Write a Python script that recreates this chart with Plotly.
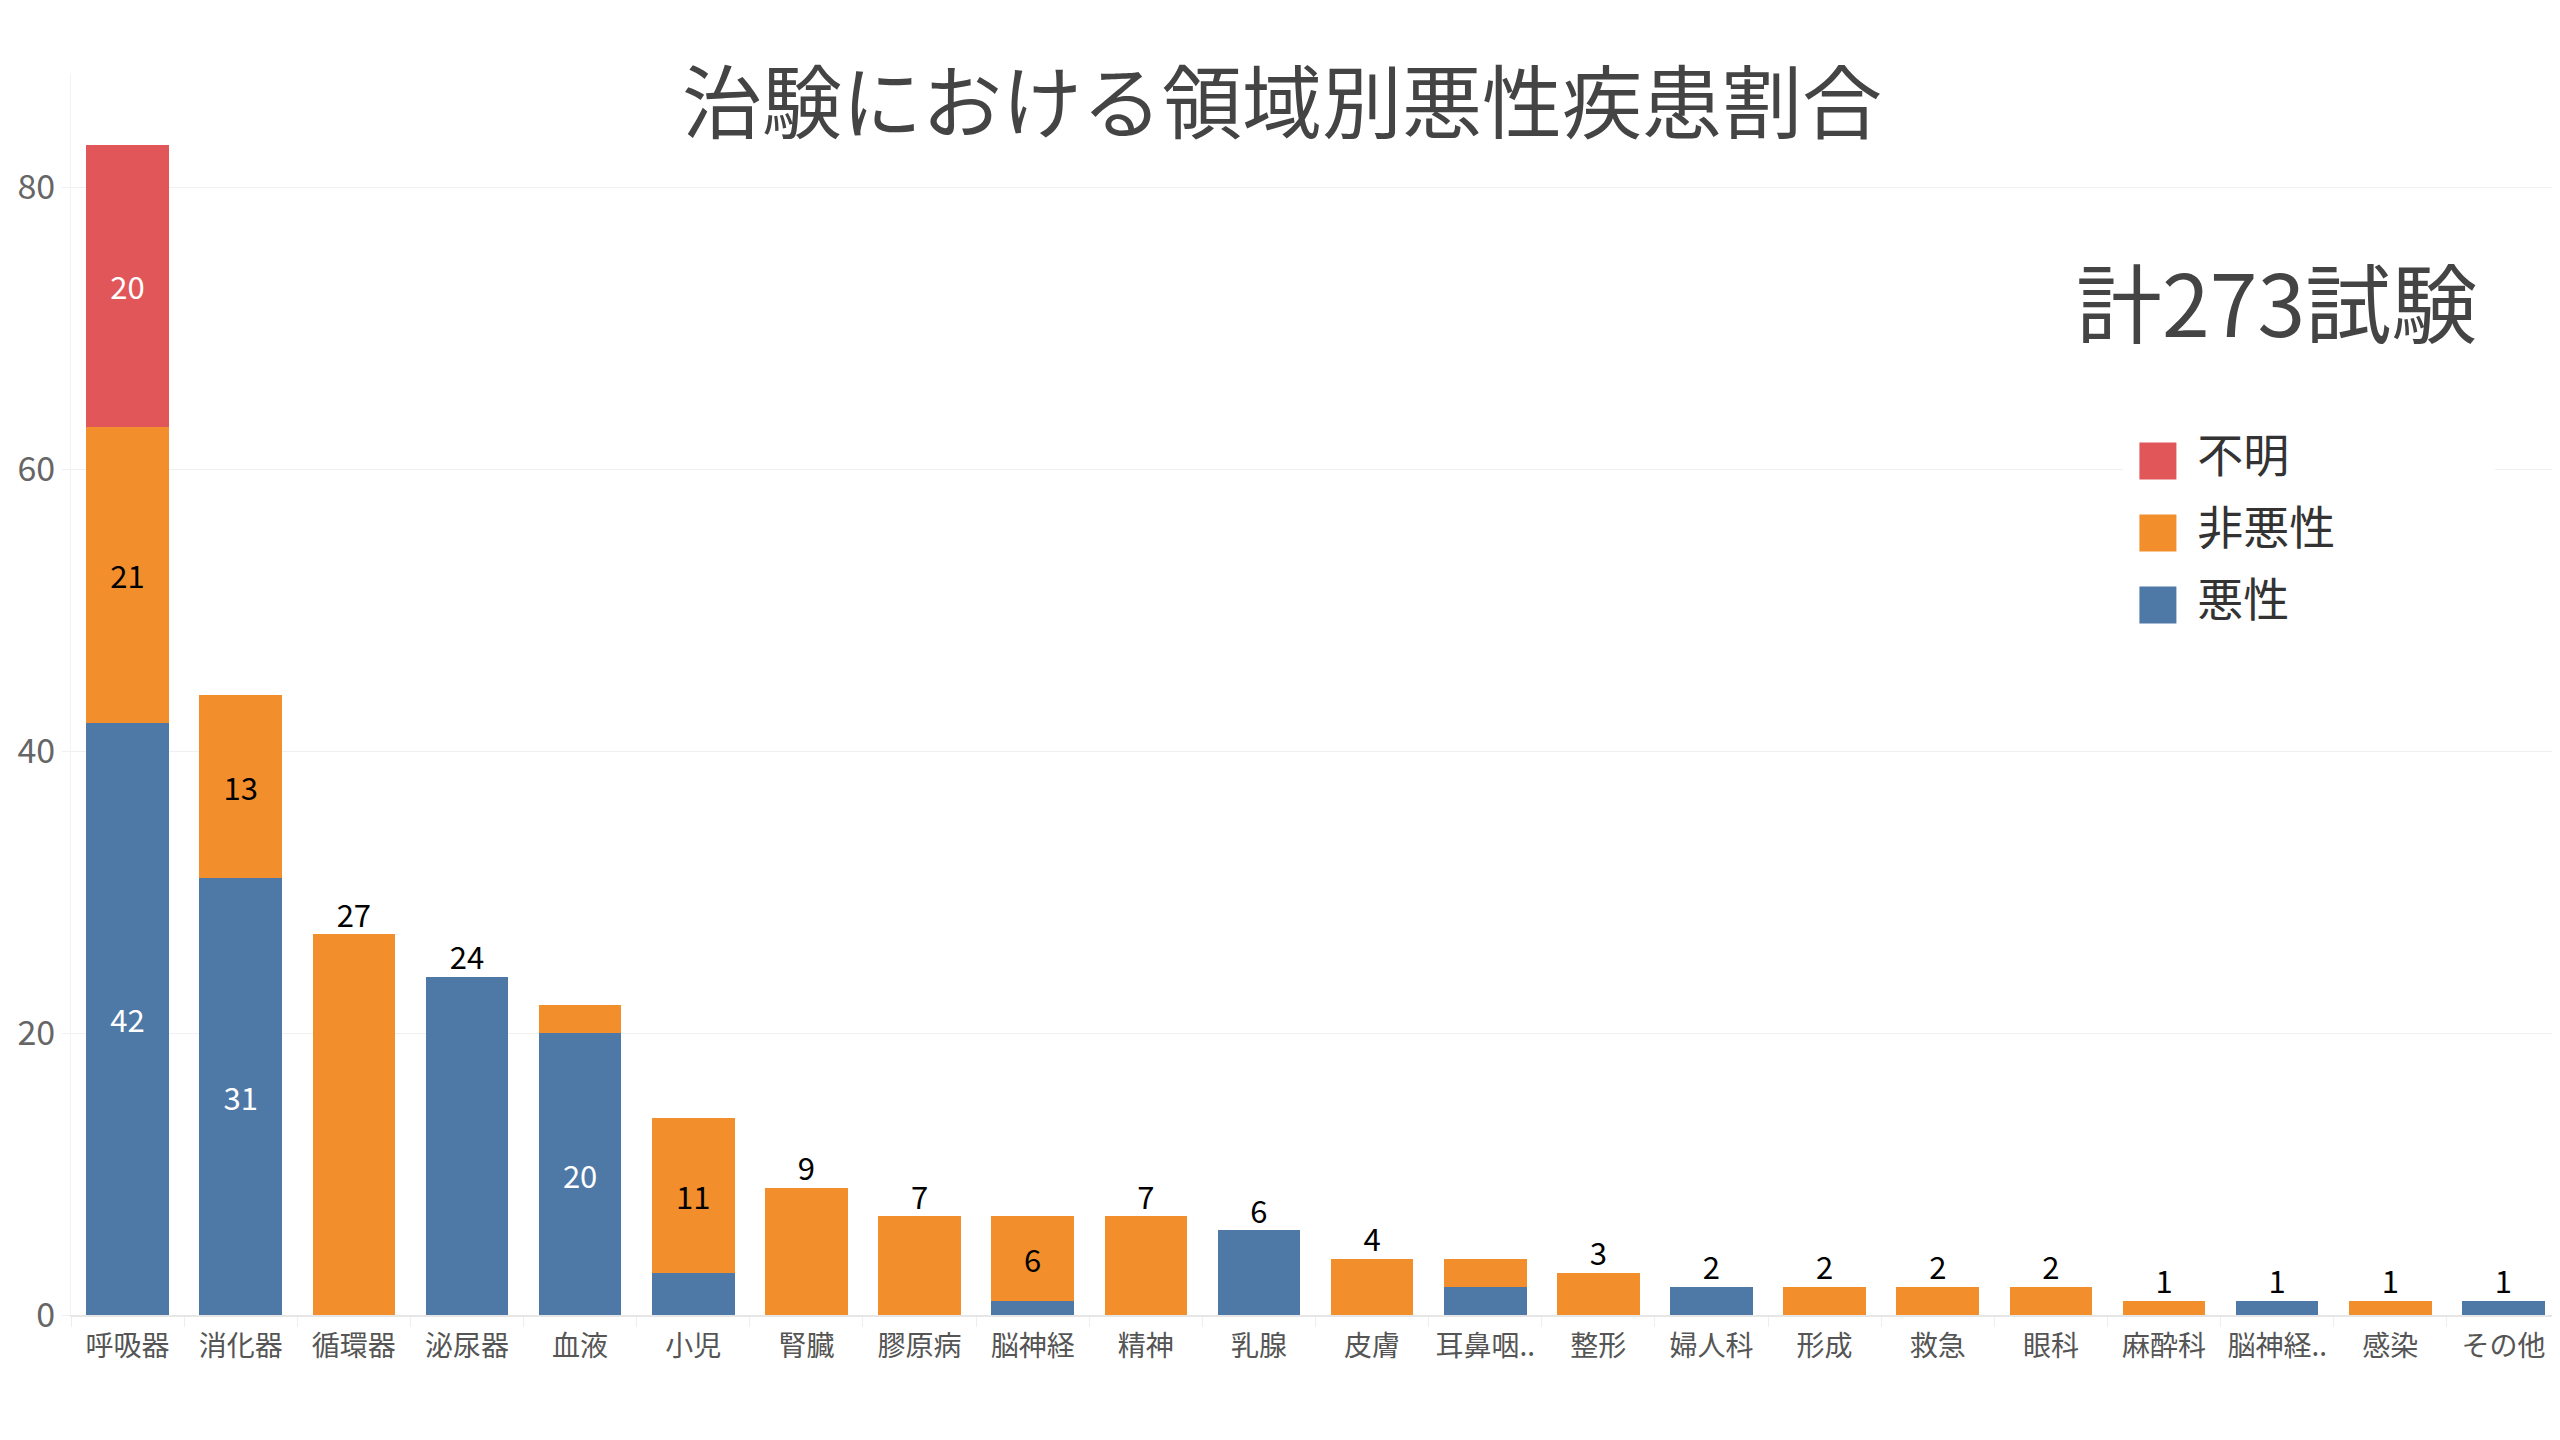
import plotly.graph_objects as go

# 領域ごとの試験数（悪性 / 非悪性 / 不明）
categories = ["呼吸器", "消化器", "循環器", "泌尿器", "血液", "小児", "腎臓", "膠原病", "脳神経", "精神", "乳腺",
              "皮膚", "耳鼻咽..", "整形", "婦人科", "形成", "救急", "眼科", "麻酔科", "脳神経..", "感染", "その他"]
malignant = [42, 31, 0, 24, 20, 3, 0, 0, 1, 0, 6, 0, 2, 0, 2, 0, 0, 0, 0, 1, 0, 1]
non_malignant = [21, 13, 27, 0, 2, 11, 9, 7, 6, 7, 0, 4, 2, 3, 0, 2, 2, 2, 1, 0, 1, 0]
unknown = [20, 0, 0, 0, 0, 0, 0, 0, 0, 0, 0, 0, 0, 0, 0, 0, 0, 0, 0, 0, 0, 0]

series_names = ["悪性", "非悪性", "不明"]
series_values = [malignant, non_malignant, unknown]
series_colors = ["#4E79A7", "#F28E2B", "#E15759"]
label_colors = ["white", "black", "white"]

title_text = "治験における領域別悪性疾患割合"
total_text = "計273試験"
y_ticks = [0, 20, 40, 60, 80]

FONT = "Noto Sans CJK JP"

totals = [sum(v) for v in zip(*series_values)]
n_parts = [sum(1 for x in v if x > 0) for v in zip(*series_values)]

fig = go.Figure()

# stacked bars, label inside only for bars with several parts
for name, vals, color, lc in zip(series_names, series_values, series_colors, label_colors):
    txt = [str(v) if (k > 1 and v >= 6) else "" for v, k in zip(vals, n_parts)]
    fig.add_trace(go.Bar(
        x=categories, y=vals, name=name, marker_color=color, marker_line_width=0,
        text=txt, texttemplate="%{text}", textposition="inside", insidetextanchor="middle",
        textangle=0, constraintext="none",
        textfont=dict(family=FONT, size=31, color=lc),
        showlegend=False, hoverinfo="skip",
    ))

# totals above single-part bars
single_x = [c for c, k in zip(categories, n_parts) if k == 1]
single_y = [t for t, k in zip(totals, n_parts) if k == 1]
fig.add_trace(go.Scatter(
    x=single_x, y=single_y, text=[str(t) for t in single_y], mode="text",
    textposition="top center", textfont=dict(family=FONT, size=31, color="black"),
    cliponaxis=False, showlegend=False, hoverinfo="skip",
))

# legend drawn on a small helper axis
leg_names = series_names[::-1]
leg_colors = series_colors[::-1]
leg_y = list(range(len(leg_names) - 1, -1, -1))
fig.add_trace(go.Scatter(
    x=[0.094] * len(leg_names), y=leg_y, mode="markers",
    marker=dict(symbol="square", size=37, color=leg_colors, line_width=0),
    xaxis="x2", yaxis="y2", showlegend=False, hoverinfo="skip", cliponaxis=False,
))
fig.add_trace(go.Scatter(
    x=[0.2] * len(leg_names), y=leg_y, mode="text", text=leg_names,
    textposition="middle right", textfont=dict(family=FONT, size=46, color="#333333"),
    xaxis="x2", yaxis="y2", showlegend=False, hoverinfo="skip", cliponaxis=False,
))

fig.add_shape(type="rect", xref="x2", yref="y2", x0=0, x1=1, y0=-0.5, y1=2.5,
              fillcolor="white", line_width=0, layer="below")

fig.add_annotation(text=total_text, xref="paper", yref="paper", x=0.886, y=0.818,
                   xanchor="center", yanchor="middle", showarrow=False,
                   font=dict(family=FONT, size=86, color="#444444"))

fig.update_layout(
    width=2560, height=1440,
    barmode="stack", bargap=0.27,
    plot_bgcolor="white", paper_bgcolor="white",
    margin=dict(l=63, r=8, t=65, b=133, autoexpand=False),
    font=dict(family=FONT, color="#555555"),
    title=dict(text=title_text, x=0.4977, xref="container", y=0.933, yref="container",
               xanchor="center", yanchor="middle",
               font=dict(family=FONT, size=80, color="#444444")),
    xaxis=dict(type="category", range=[-0.5, len(categories) - 0.5],
               tickfont=dict(family=FONT, size=28, color="#555555"),
               showgrid=False, showline=True, linecolor="#e6e6e6", linewidth=2,
               ticks="outside", tickson="boundaries", ticklen=10, tickcolor="#eeeeee",
               ticklabelstandoff=5),
    yaxis=dict(range=[0, 88.1], tickvals=y_ticks, tickfont=dict(family=FONT, size=34, color="#666666"),
               showgrid=True, gridcolor="#f0f0f0", gridwidth=1, zeroline=False,
               showline=True, linecolor="#f3f3f3", ticks="outside", ticklen=8, tickcolor="#f0f0f0"),
    xaxis2=dict(domain=[0.8244, 0.9739], range=[0, 1], anchor="y2", visible=False, fixedrange=True),
    yaxis2=dict(domain=[0.5427, 0.7166], range=[-0.5, 2.5], anchor="x2", visible=False, fixedrange=True),
)

fig.write_html("out.html")
